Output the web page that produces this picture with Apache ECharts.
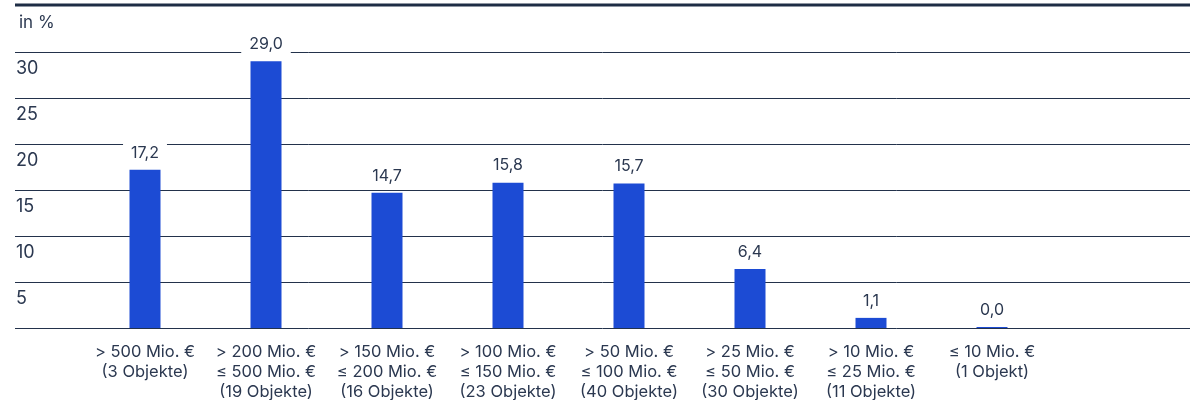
<!DOCTYPE html>
<html><head><meta charset="utf-8">
<script src="https://cdn.jsdelivr.net/npm/echarts@6/dist/echarts.min.js"></script>
<style>html,body{margin:0;padding:0;background:#fff}#c{width:1194px;height:400px}</style>
</head><body><div id="c"></div>
<script>
const categories = [
  '> 500 Mio. €\n(3 Objekte)',
  '> 200 Mio. €\n≤ 500 Mio. €\n(19 Objekte)',
  '> 150 Mio. €\n≤ 200 Mio. €\n(16 Objekte)',
  '> 100 Mio. €\n≤ 150 Mio. €\n(23 Objekte)',
  '> 50 Mio. €\n≤ 100 Mio. €\n(40 Objekte)',
  '> 25 Mio. €\n≤ 50 Mio. €\n(30 Objekte)',
  '> 10 Mio. €\n≤ 25 Mio. €\n(11 Objekte)',
  '≤ 10 Mio. €\n(1 Objekt)'
];
const shares = [17.2, 29.0, 14.7, 15.8, 15.7, 6.4, 1.1, 0.0];
const yTicks = {min: 0, max: 30, interval: 5};
const unitLabel = 'in %';

const FONT = 'Inter, "Noto Sans", sans-serif';
const TXT = '#2b3850';
const LINE = '#23324b';
const BAR = '#1c4bd4';

const chart = echarts.init(document.getElementById('c'), null, {renderer: 'canvas'});
chart.setOption({
  animation: false,
  textStyle: {fontFamily: FONT},
  title: {text: unitLabel, left: 14, top: 9,
    textStyle: {fontFamily: FONT, fontSize: 17, fontWeight: 'normal', color: TXT}},
  graphic: [{type: 'line', shape: {x1: 15, y1: 5, x2: 1190, y2: 5},
    style: {stroke: '#1e2d45', lineWidth: 3}}],
  grid: [
    {left: 84.5, right: 141.5, top: 52, bottom: 72, containLabel: false, outerBoundsMode: 'none'},
    {left: 15, right: 4, top: 52, bottom: 72, containLabel: false, outerBoundsMode: 'none'}
  ],
  xAxis: [
    {type: 'category', gridIndex: 0, data: categories,
      axisLine: {show: false}, axisTick: {show: false},
      axisLabel: {margin: 14, lineHeight: 20, fontSize: 16.5, color: TXT, fontFamily: FONT, interval: 0}},
    {type: 'value', gridIndex: 1, show: false, min: 0, max: 1}
  ],
  yAxis: [
    {type: 'value', gridIndex: 0, min: yTicks.min, max: yTicks.max, interval: yTicks.interval,
      show: false},
    {type: 'value', gridIndex: 1, min: yTicks.min, max: yTicks.max, interval: yTicks.interval,
      axisLine: {show: false}, axisTick: {show: false},
      splitLine: {show: true, lineStyle: {color: LINE, width: 1}},
      axisLabel: {inside: true, margin: 1, verticalAlign: 'top', padding: [8, 0, 0, 0],
        fontSize: 18, color: TXT, fontFamily: FONT,
        formatter: v => v === 0 ? '' : String(v)}}
  ],
  series: [{
    type: 'bar', xAxisIndex: 0, yAxisIndex: 0, data: shares,
    barWidth: 31, barMinHeight: 1,
    itemStyle: {color: BAR},
    z: 3,
    label: {show: true, position: 'top', distance: 7,
      formatter: p => p.value.toFixed(1).replace('.', ','),
      fontSize: 16, color: TXT, fontFamily: FONT, lineHeight: 18,
      backgroundColor: '#fff', padding: [2, 8, 1, 8]}
  }]
});
</script></body></html>
